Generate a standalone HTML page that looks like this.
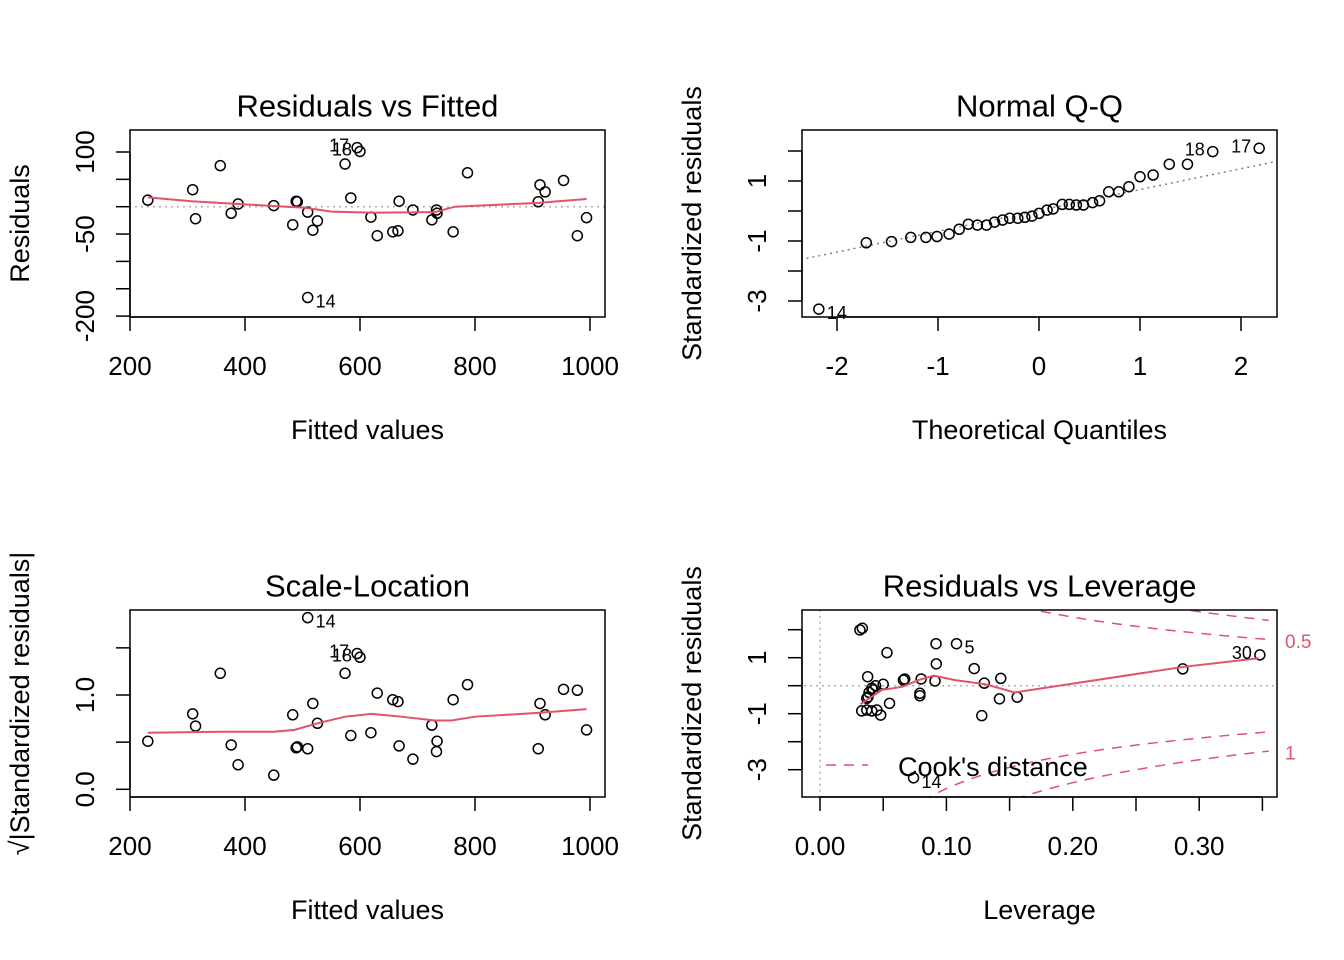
<!DOCTYPE html>
<html><head><meta charset="utf-8"><style>
html,body{margin:0;padding:0;background:#fff;overflow:hidden;width:1344px;height:960px;}
svg{display:block;position:absolute;left:0;top:0;font-family:"Liberation Sans",Arial,sans-serif;}
</style></head><body>
<svg id="chart" width="1344" height="960" viewBox="0 0 1344 960" xmlns="http://www.w3.org/2000/svg"></svg>
<script>
// ---- Panel 1 & 3 data: fitted values, residuals, sqrt|std residuals|
const fittedValues=[231,309,314,357,376,388,450,483,489,491,509,509,518,526,574,595,600,584,619,630,657,666,668,692,725,733,734,762,787,910,913,922,954,978,994];
const residualValues=[12,31,-22,75,-12,5,2,-33,10,9,-10,-166,-43,-26,78,108,101,16,-19,-53,-46,-44,10,-6,-24,-6,-12,-46,62,9,40,27,48,-53,-20];
const pointLabels1={11:'14',15:'17',16:'18'};
const smooth1X=[231,307,388,452,504,551,626,730,765,910,994];
const smooth1Y=[17,10,5,1,-2,-9,-11,-10,0,7,14];
const sqrtStdResid=[0.51,0.80,0.67,1.23,0.47,0.26,0.15,0.79,0.44,0.45,0.43,1.82,0.91,0.70,1.23,1.44,1.40,0.57,0.60,1.02,0.95,0.93,0.46,0.32,0.68,0.40,0.51,0.95,1.11,0.43,0.91,0.79,1.06,1.05,0.63];
const smooth3X=[231,358,450,486,526,574,620,672,730,759,800,910,994];
const smooth3Y=[0.60,0.61,0.61,0.63,0.70,0.77,0.80,0.77,0.73,0.73,0.77,0.81,0.85];
// ---- Panel 2 data: Q-Q
const theoQuant=[-2.18,-1.71,-1.46,-1.27,-1.12,-1.01,-0.89,-0.79,-0.70,-0.61,-0.52,-0.44,-0.36,-0.29,-0.21,-0.14,-0.07,0.0,0.08,0.14,0.23,0.30,0.37,0.44,0.53,0.60,0.69,0.79,0.89,1.0,1.13,1.29,1.47,1.72,2.18];
const sampleQuant=[-3.27,-1.06,-1.02,-0.88,-0.88,-0.85,-0.77,-0.61,-0.44,-0.47,-0.47,-0.37,-0.30,-0.24,-0.24,-0.21,-0.17,-0.08,0.03,0.07,0.22,0.22,0.2,0.2,0.28,0.34,0.64,0.64,0.81,1.14,1.2,1.56,1.56,1.98,2.09];
const pointLabels2={0:'14',33:'18',34:'17'};
const qqLine=[0.02,0.695]; // intercept, slope
// ---- Panel 4 data: leverage
const leverage=[0.0316,0.0335,0.053,0.0918,0.108,0.092,0.122,0.143,0.130,0.091,0.080,0.066,0.067,0.0377,0.050,0.041,0.042,0.0388,0.037,0.079,0.079,0.055,0.142,0.156,0.033,0.037,0.041,0.045,0.048,0.128,0.074,0.287,0.348,0.044,0.038];
const stdResid4=[1.99,2.05,1.18,1.5,1.5,0.78,0.61,0.26,0.09,0.17,0.24,0.2,0.24,0.32,0.05,-0.09,-0.15,-0.24,-0.45,-0.27,-0.36,-0.63,-0.47,-0.41,-0.90,-0.87,-0.90,-0.87,-1.05,-1.07,-3.29,0.6,1.1,0.0,-0.4];
const pointLabels4={4:'5',30:'14',32:'30'};
const smooth4X=[0.032,0.049,0.065,0.078,0.090,0.107,0.131,0.154,0.287,0.347];
const smooth4Y=[-0.66,-0.15,-0.04,0.2,0.36,0.2,0.05,-0.24,0.67,0.98];
const cookLevels=[0.5,1];
const nParams=[3];

const svg=document.getElementById('chart');
const NS='http://www.w3.org/2000/svg';
function mk(tag,attrs,parent){const e=document.createElementNS(NS,tag);for(const k in attrs)e.setAttribute(k,attrs[k]);(parent||svg).appendChild(e);return e;}
function txt(s,x,y,size,opts,parent){opts=opts||{};const t=mk('text',{x:x,y:y,'font-size':size,'text-anchor':opts.anchor||'middle','dominant-baseline':'central',fill:opts.fill||'#000'},parent);if(opts.rot)t.setAttribute('transform','rotate(-90 '+x+' '+y+')');t.textContent=s;return t;}
function lin(d0,d1,p0,p1){return v=>p0+(v-d0)*(p1-p0)/(d1-d0);}
const RED='#DF536B';

function panel(cfg){
  const g=mk('g',{});
  
  
  const {x0,x1,y0,y1}=cfg.box;
  const clipId='clip-'+cfg.name;
  const cp=mk('clipPath',{id:clipId},g);mk('rect',{x:x0,y:y0,width:x1-x0,height:y1-y0},cp);
  const plot=mk('g',{'clip-path':'url(#'+clipId+')'},g);
  
  
  const t=txt(cfg.title,(x0+x1)/2,y0-24,31,{},g);
  
  
  const xl=txt(cfg.xlab,(x0+x1)/2,y1+113,27,{},g);
  
  
  const yl=txt(cfg.ylab,cfg.ylabX,(y0+y1)/2,27,{rot:true},g);
  
  
  const xa=mk('g',{},g);
  
  
  const xt=cfg.xticks;
  mk('line',{x1:cfg.sx(xt[0]),x2:cfg.sx(xt[xt.length-1]),y1:y1,y2:y1,stroke:'#000','stroke-width':1.5},xa);
  xt.forEach(v=>{const px=cfg.sx(v);mk('line',{x1:px,x2:px,y1:y1,y2:y1+14,stroke:'#000','stroke-width':1.5},xa);});
  cfg.xlabels.forEach(v=>{txt(cfg.xfmt(v),cfg.sx(v),y1+49,26,{},xa);});
  const ya=mk('g',{},g);
  
  
  const yt=cfg.yticks;
  mk('line',{x1:x0,x2:x0,y1:cfg.sy(yt[0]),y2:cfg.sy(yt[yt.length-1]),stroke:'#000','stroke-width':1.5},ya);
  yt.forEach(v=>{const py=cfg.sy(v);mk('line',{x1:x0-14,x2:x0,y1:py,y2:py,stroke:'#000','stroke-width':1.5},ya);});
  cfg.ylabels.forEach(v=>{txt(cfg.yfmt(v),x0-45,cfg.sy(v),26,{rot:true},ya);});
  mk('rect',{x:x0,y:y0,width:x1-x0,height:y1-y0,fill:'none',stroke:'#000','stroke-width':1.5},g);
  plot.labelLayer=g;
  return plot;
}
function points(plot,xs,ys,sx,sy,labels){
  const lo=Math.min(...xs), hi=Math.max(...xs);
  xs.forEach((v,i)=>{
    const c=mk('circle',{cx:sx(v),cy:sy(ys[i]),r:5,fill:'none',stroke:'#000','stroke-width':1.5},plot);
    
    
    if(labels[i]){
      const right=(v-lo)/(hi-lo)<0.45;
      const l=txt(labels[i],sx(v)+(right?8:-8),sy(ys[i])+(right?4:-2),18,{anchor:right?'start':'end'},plot.labelLayer);
      
      }
  });
}
function polyline(plot,xs,ys,sx,sy,style,name){
  const p=mk('polyline',Object.assign({points:xs.map((v,i)=>sx(v)+','+sy(ys[i])).join(' '),fill:'none'},style),plot);
  
  
  return p;
}
const fmt0=v=>String(v);

// Panel 1
{const sx=lin(200,1000,130,590), sy=lin(0,100,206.7,152);
 const p=panel({name:'residuals-vs-fitted',box:{x0:130,x1:605,y0:130,y1:317},sx,sy,title:'Residuals vs Fitted',xlab:'Fitted values',ylab:'Residuals',ylabX:20,
  xticks:[200,400,600,800,1000],xlabels:[200,400,600,800,1000],xfmt:fmt0,yticks:[-200,-150,-100,-50,0,50,100],ylabels:[-200,-50,100],yfmt:fmt0});
 polyline(p,[0,1200],[0,0],sx,sy,{stroke:'#b0b0b0','stroke-width':1.5,'stroke-dasharray':'2,4'},'zero-reference-line');
 points(p,fittedValues,residualValues,sx,sy,pointLabels1);
 polyline(p,smooth1X,smooth1Y,sx,sy,{stroke:RED,'stroke-width':2},'smooth-line');}
// Panel 2
{const sx=lin(0,1,1039,1140), sy=lin(0,1,211,181);
 const p=panel({name:'normal-qq',box:{x0:802,x1:1277,y0:130,y1:317},sx,sy,title:'Normal Q-Q',xlab:'Theoretical Quantiles',ylab:'Standardized residuals',ylabX:692,
  xticks:[-2,-1,0,1,2],xlabels:[-2,-1,0,1,2],xfmt:fmt0,yticks:[-3,-2,-1,0,1,2],ylabels:[-3,-1,1],yfmt:fmt0});
 polyline(p,[-3,3],[qqLine[0]-3*qqLine[1],qqLine[0]+3*qqLine[1]],sx,sy,{stroke:'#808080','stroke-width':1.5,'stroke-dasharray':'2,4'},'qq-reference-line');
 points(p,theoQuant,sampleQuant,sx,sy,pointLabels2);}
// Panel 3
{const sx=lin(200,1000,130,590), sy=lin(0,1,789.3,695);
 const p=panel({name:'scale-location',box:{x0:130,x1:605,y0:610,y1:797},sx,sy,title:'Scale-Location',xlab:'Fitted values',ylab:'\u221A|Standardized residuals|',ylabX:20,
  xticks:[200,400,600,800,1000],xlabels:[200,400,600,800,1000],xfmt:fmt0,yticks:[0,0.5,1,1.5],ylabels:[0,1],yfmt:v=>v.toFixed(1)});
 points(p,fittedValues,sqrtStdResid,sx,sy,{11:'14',15:'17',16:'18'});
 polyline(p,smooth3X,smooth3Y,sx,sy,{stroke:RED,'stroke-width':2},'smooth-line');}
// Panel 4
{const sx=lin(0,0.1,820,946.4), sy=lin(0,1,685.7,657.7);
 const p=panel({name:'residuals-vs-leverage',box:{x0:802,x1:1277,y0:610,y1:797},sx,sy,title:'Residuals vs Leverage',xlab:'Leverage',ylab:'Standardized residuals',ylabX:692,
  xticks:[0,0.05,0.1,0.15,0.2,0.25,0.3,0.35],xlabels:[0,0.1,0.2,0.3],xfmt:v=>v.toFixed(2),yticks:[-3,-2,-1,0,1,2],ylabels:[-3,-1,1],yfmt:fmt0});
 polyline(p,[-1,1],[0,0],sx,sy,{stroke:'#b0b0b0','stroke-width':1.5,'stroke-dasharray':'2,4'},'zero-reference-line');
 polyline(p,[0,0],[-10,10],sx,sy,{stroke:'#b0b0b0','stroke-width':1.5,'stroke-dasharray':'2,4'},'zero-leverage-line');
 cookLevels.forEach((lv,k)=>{
   const hs=[];for(let h=0.005;h<=0.36;h+=0.005)hs.push(h);
   const up=hs.map(h=>Math.sqrt(lv*nParams[0]*(1-h)/h));
   polyline(p,hs,up,sx,sy,{stroke:RED,'stroke-width':1.5,'stroke-dasharray':'10,8'},'cooks-contour-upper');
   polyline(p,hs,up.map(v=>-v),sx,sy,{stroke:RED,'stroke-width':1.5,'stroke-dasharray':'10,8'},'cooks-contour-lower');
   const yv=Math.sqrt(lv*nParams[0]*(1-0.355)/0.355)*(k===0?1:-1);
   const lb=txt(String(lv),1285,sy(yv)+3,19,{anchor:'start',fill:RED});
   
   
 });
 points(p,leverage,stdResid4,sx,sy,pointLabels4);
 polyline(p,smooth4X,smooth4Y,sx,sy,{stroke:RED,'stroke-width':2},'smooth-line');
 const lg=mk('g',{});
 
 
 mk('line',{x1:826,x2:868,y1:765,y2:765,stroke:RED,'stroke-width':1.5,'stroke-dasharray':'10,8'},lg);
 txt("Cook's distance",898,767,27,{anchor:'start'},lg);}
</script>
</body></html>
